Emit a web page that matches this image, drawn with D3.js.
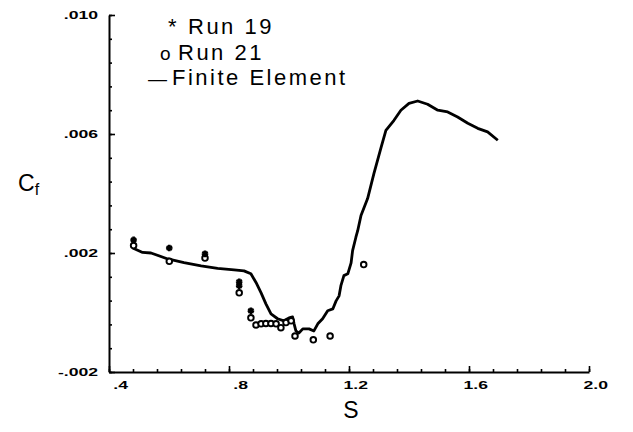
<!DOCTYPE html>
<html>
<head>
<meta charset="utf-8">
<script src="https://cdn.jsdelivr.net/npm/d3@7"></script>
<style>
  body { margin: 0; background: #fff; }
  svg { display: block; }
  .tick-label { font-family: "Liberation Sans", Arial, sans-serif; font-weight: bold; font-size: 11px; }
  .legend { font-family: "Liberation Sans", Arial, sans-serif; font-size: 22px; letter-spacing: 2.5px; }
</style>
</head>
<body>
<script>
// finite element curve (s, Cf)
var feS  = [0.479, 0.512, 0.54, 0.596, 0.65, 0.707, 0.762, 0.817, 0.85, 0.873, 0.89, 0.907, 0.923, 0.94,
            0.962, 0.983, 1.0, 1.012, 1.017, 1.023, 1.033, 1.046, 1.067, 1.083, 1.096, 1.112, 1.129, 1.146,
            1.157, 1.167, 1.173, 1.183, 1.196, 1.207, 1.212, 1.223, 1.229, 1.24, 1.262, 1.283, 1.307, 1.323,
            1.35, 1.373, 1.4, 1.429, 1.462, 1.496, 1.529, 1.562, 1.596, 1.629, 1.662, 1.696];
var feCf = [0.00217, 0.00202, 0.0020, 0.0018, 0.00168, 0.00157, 0.00148, 0.00143, 0.0014, 0.0013, 0.00101, 0.00066, 0.00029, -0.00005,
            -0.00021, -0.00028, -0.00018, -0.00015, -0.00038, -0.00062, -0.00069, -0.00055, -0.00055, -0.00062, -0.00038, -0.00021, 0.00006, 0.00012,
            0.00039, 0.00056, 0.0009, 0.00124, 0.0013, 0.00167, 0.00208, 0.00253, 0.00275, 0.00326, 0.00383, 0.00467, 0.00555, 0.00612,
            0.00646, 0.0068, 0.00703, 0.00711, 0.0070, 0.0068, 0.00674, 0.00657, 0.00636, 0.00619, 0.00607, 0.00579];

// Run 19 (asterisks)
var run19S  = [0.482, 0.601, 0.72, 0.834, 0.834, 0.873];
var run19Cf = [0.00244, 0.00217, 0.00197, 0.00103, 0.0009, 0.00006];

// Run 21 (circles)
var run21S  = [0.482, 0.601, 0.72, 0.834, 0.873, 0.89, 0.907, 0.923, 0.94, 0.957, 0.973, 0.99, 1.007, 1.02, 1.081, 1.137, 1.249];
var run21Cf = [0.00225, 0.00172, 0.00183, 0.00066, -0.00018, -0.00042, -0.00038, -0.00037, -0.00037, -0.00038, -0.00051, -0.00034, -0.00028, -0.00079, -0.00092, -0.00079, 0.00161];

var xMajor = [0.4, 0.8, 1.2, 1.6, 2.0];
var xLabels = [".4", ".8", "1.2", "1.6", "2.0"];
var yMajor = [-0.002, 0.002, 0.006, 0.010];
var yLabels = ["-.002", ".002", ".006", ".010"];

var width = 633, height = 432;

var svg = d3.select("body").append("svg")
    .attr("width", width)
    .attr("height", height);

var x = d3.scaleLinear().domain([0.4, 2.0]).range([109, 589]);
var y = d3.scaleLinear().domain([-0.002, 0.010]).range([372, 15]);

var xMinor = d3.range(0, 21).map(function(i) { return 0.4 + i * 0.08; });
var yMinor = d3.range(0, 16).map(function(i) { return -0.002 + i * 0.0008; });

// x axis, ticks pointing inward
svg.append("g")
    .attr("transform", "translate(0," + y(-0.002) + ")")
    .call(d3.axisBottom(x).tickValues(xMinor).tickSizeInner(-3).tickSizeOuter(0).tickFormat(""));
svg.append("g")
    .attr("transform", "translate(0," + y(-0.002) + ")")
    .call(d3.axisBottom(x).tickValues(xMajor).tickSizeInner(-6).tickSizeOuter(0).tickFormat(""))
    .select(".domain").remove();

// y axis
svg.append("g")
    .attr("transform", "translate(" + x(0.4) + ",0)")
    .call(d3.axisLeft(y).tickValues(yMinor).tickSizeInner(-3).tickSizeOuter(0).tickFormat(""));
svg.append("g")
    .attr("transform", "translate(" + x(0.4) + ",0)")
    .call(d3.axisLeft(y).tickValues(yMajor).tickSizeInner(-6).tickSizeOuter(0).tickFormat(""))
    .select(".domain").remove();

svg.selectAll(".domain").attr("stroke", "#000").attr("stroke-width", 2);
svg.selectAll(".tick line").attr("stroke", "#000").attr("stroke-width", 1.6);

// tick labels (squat bold digits)
svg.selectAll(".xlab")
  .data(xMajor)
  .enter().append("text")
    .attr("class", "tick-label")
    .attr("text-anchor", "end")
    .attr("transform", function(d) { return "translate(" + (x(d) + 19) + ",389) scale(1.6,1)"; })
    .text(function(d, i) { return xLabels[i]; });

svg.selectAll(".ylab")
  .data(yMajor)
  .enter().append("text")
    .attr("class", "tick-label")
    .attr("text-anchor", "end")
    .attr("dy", "0.35em")
    .attr("transform", function(d) { return "translate(98," + y(d) + ") scale(1.6,1)"; })
    .text(function(d, i) { return yLabels[i]; });

// axis titles
var cf = svg.append("text")
    .attr("x", 18)
    .attr("y", 191)
    .style("font-family", "Liberation Sans, Arial, sans-serif")
    .style("font-size", "23px")
    .text("C");
cf.append("tspan")
    .attr("dy", 4)
    .style("font-size", "16px")
    .text("f");

svg.append("text")
    .attr("x", 351)
    .attr("y", 418)
    .attr("text-anchor", "middle")
    .style("font-family", "Liberation Sans, Arial, sans-serif")
    .style("font-size", "23px")
    .text("S");

// finite element line
var feData = feS.map(function(s, i) { return {s: s, cf: feCf[i]}; });
var line = d3.line()
    .x(function(d) { return x(d.s); })
    .y(function(d) { return y(d.cf); });

svg.append("path")
    .datum(feData)
    .attr("fill", "none")
    .attr("stroke", "#000")
    .attr("stroke-width", 2.8)
    .attr("stroke-linejoin", "round")
    .attr("d", line);

// Run 21 circles
svg.selectAll(".r21")
  .data(run21S)
  .enter().append("circle")
    .attr("cx", function(d) { return x(d); })
    .attr("cy", function(d, i) { return y(run21Cf[i]); })
    .attr("r", 2.8)
    .attr("fill", "#fff")
    .attr("stroke", "#000")
    .attr("stroke-width", 1.9);

// Run 19 asterisks
var star = d3.symbol().type(d3.symbolAsterisk).size(30);
svg.selectAll(".r19")
  .data(run19S)
  .enter().append("path")
    .attr("d", star)
    .attr("transform", function(d, i) { return "translate(" + x(d) + "," + y(run19Cf[i]) + ")"; })
    .attr("fill", "none")
    .attr("stroke", "#000")
    .attr("stroke-width", 2.6);

// legend
svg.append("text").attr("class", "legend").attr("x", 168).attr("y", 34).text("*");
svg.append("text").attr("class", "legend").attr("x", 188).attr("y", 34).text("Run 19");
svg.append("text").attr("class", "legend").attr("x", 160).attr("y", 60).style("font-size", "19px").text("o");
svg.append("text").attr("class", "legend").attr("x", 178).attr("y", 60).text("Run 21");
svg.append("text").attr("class", "legend").attr("x", 148).attr("y", 85).style("font-size", "19px").text("—");
svg.append("text").attr("class", "legend").attr("x", 172).attr("y", 85).text("Finite Element");
</script>
</body>
</html>
